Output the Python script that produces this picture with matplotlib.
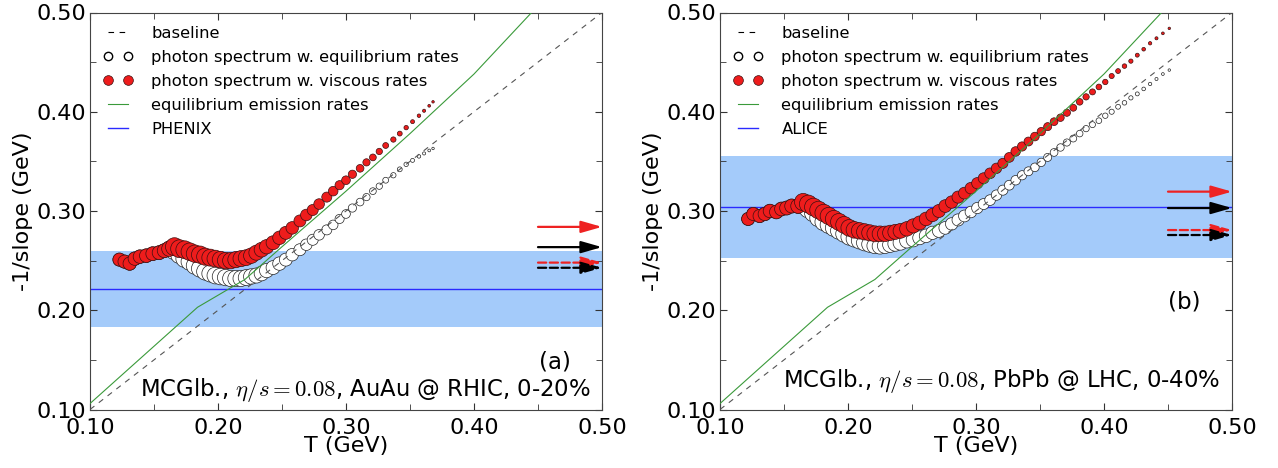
import numpy as np
import matplotlib.pyplot as plt
from matplotlib.lines import Line2D
from matplotlib.ticker import MultipleLocator, FormatStrFormatter

plt.rcParams['font.family'] = 'DejaVu Sans'
plt.rcParams['mathtext.fontset'] = 'cm'

# ---- panel (a): AuAu @ RHIC, 0-20% ----
T_a = [0.123, 0.127, 0.131, 0.135, 0.139, 0.144, 0.149, 0.154, 0.158, 0.162,
       0.166, 0.170, 0.174, 0.178, 0.182, 0.186, 0.190, 0.194, 0.198, 0.202,
       0.206, 0.210, 0.214, 0.218, 0.222, 0.226, 0.230, 0.234, 0.238, 0.243,
       0.248, 0.253, 0.258, 0.264, 0.269, 0.274, 0.279, 0.285, 0.290, 0.295,
       0.300, 0.305, 0.311, 0.316, 0.321, 0.326, 0.331, 0.337, 0.342, 0.347,
       0.352, 0.357, 0.361, 0.365, 0.368]
visc_a = [0.251, 0.249, 0.247, 0.252, 0.254, 0.255, 0.257, 0.258, 0.260, 0.262,
          0.264, 0.262, 0.261, 0.259, 0.257, 0.256, 0.254, 0.253, 0.252, 0.251,
          0.250, 0.250, 0.251, 0.252, 0.253, 0.255, 0.258, 0.261, 0.264, 0.268,
          0.273, 0.278, 0.283, 0.290, 0.296, 0.301, 0.307, 0.314, 0.320, 0.326,
          0.331, 0.337, 0.343, 0.349, 0.354, 0.360, 0.366, 0.372, 0.378, 0.384,
          0.390, 0.396, 0.401, 0.406, 0.410]
equil_a = [0.251, 0.249, 0.247, 0.252, 0.254, 0.255, 0.257, 0.258, 0.260, 0.262,
           0.260, 0.256, 0.252, 0.249, 0.245, 0.242, 0.239, 0.237, 0.235, 0.234,
           0.233, 0.232, 0.232, 0.232, 0.233, 0.234, 0.235, 0.237, 0.240, 0.243,
           0.247, 0.251, 0.256, 0.261, 0.266, 0.271, 0.276, 0.281, 0.286, 0.292,
           0.297, 0.303, 0.309, 0.314, 0.320, 0.325, 0.331, 0.336, 0.342, 0.347,
           0.351, 0.355, 0.358, 0.361, 0.363]
band_a = (0.183, 0.260)
exp_a = 0.221
arrows_a = [0.284, 0.2636, 0.248, 0.2428]   # visc, equil, visc (dashed), equil (dashed)

# ---- panel (b): PbPb @ LHC, 0-40% ----
T_b = [0.122, 0.126, 0.131, 0.135, 0.139, 0.144, 0.148, 0.152, 0.156, 0.161,
       0.165, 0.169, 0.173, 0.177, 0.181, 0.185, 0.189, 0.193, 0.197, 0.201,
       0.205, 0.209, 0.213, 0.217, 0.221, 0.225, 0.229, 0.233, 0.237, 0.241,
       0.246, 0.251, 0.256, 0.261, 0.266, 0.271, 0.276, 0.281, 0.286, 0.291,
       0.296, 0.301, 0.306, 0.311, 0.316, 0.321, 0.326, 0.331, 0.336, 0.341,
       0.346, 0.351, 0.356, 0.361, 0.366, 0.371, 0.376, 0.381, 0.386, 0.391,
       0.396, 0.401, 0.406, 0.411, 0.416, 0.421, 0.426, 0.431, 0.436, 0.441,
       0.446, 0.451]
visc_b = [0.292, 0.297, 0.295, 0.297, 0.300, 0.299, 0.302, 0.303, 0.305, 0.305,
          0.309, 0.307, 0.304, 0.301, 0.298, 0.295, 0.292, 0.289, 0.286, 0.283,
          0.281, 0.280, 0.279, 0.278, 0.277, 0.277, 0.277, 0.278, 0.279, 0.280,
          0.282, 0.285, 0.288, 0.292, 0.296, 0.300, 0.305, 0.309, 0.314, 0.318,
          0.323, 0.328, 0.333, 0.338, 0.343, 0.348, 0.354, 0.360, 0.365, 0.370,
          0.375, 0.380, 0.385, 0.390, 0.394, 0.399, 0.404, 0.410, 0.415, 0.420,
          0.425, 0.430, 0.436, 0.441, 0.446, 0.451, 0.457, 0.463, 0.469, 0.474,
          0.479, 0.484]
equil_b = [0.292, 0.297, 0.295, 0.297, 0.300, 0.299, 0.302, 0.303, 0.305, 0.305,
           0.306, 0.302, 0.298, 0.293, 0.289, 0.286, 0.283, 0.280, 0.277, 0.274,
           0.272, 0.270, 0.268, 0.2665, 0.265, 0.2645, 0.265, 0.266, 0.267, 0.268,
           0.270, 0.271, 0.273, 0.275, 0.278, 0.280, 0.283, 0.287, 0.291, 0.295,
           0.299, 0.303, 0.307, 0.311, 0.316, 0.321, 0.326, 0.331, 0.336, 0.340,
           0.344, 0.349, 0.354, 0.359, 0.364, 0.369, 0.373, 0.378, 0.383, 0.387,
           0.391, 0.396, 0.400, 0.405, 0.409, 0.414, 0.418, 0.423, 0.428, 0.433,
           0.438, 0.442]
band_b = (0.253, 0.355)
exp_b = 0.304
arrows_b = [0.3195, 0.303, 0.2808, 0.2758]

# equilibrium emission rates (same in both panels)
T_green = [0.10, 0.184, 0.221, 0.25, 0.30, 0.35, 0.40, 0.445]
y_green = [0.106, 0.203, 0.231, 0.264, 0.320, 0.378, 0.438, 0.50]


def marker_sizes(T, t_end):
    # circle diameter in px, shrinking towards the last points
    d = np.interp(T, [0.12, 0.16, 0.166, 0.22, t_end], [13, 14, 18, 16, 2.5])
    return (d * 0.72) ** 2


def draw_panel(ax, T, visc, equil, band, exp_val, arrows, exp_name, tag, tag_y, note, note_y):
    ax.axhspan(band[0], band[1], color='#a4cbfa', lw=0, zorder=0)
    ax.axhline(exp_val, color='#2a2aff', lw=1.0, zorder=1)

    s = marker_sizes(np.array(T), T[-1])
    ax.scatter(T, equil, s=s, facecolor='white', edgecolor='#222222', linewidth=0.5, zorder=2)
    ax.scatter(T, visc, s=s, facecolor='#ee1c1c', edgecolor='#3a1010', linewidth=0.5, zorder=2.5)

    ax.plot([0.10, 0.50], [0.10, 0.50], color='#555555', lw=0.8, dashes=(5, 5), zorder=3)
    ax.plot(T_green, y_green, color='#3a9a3a', lw=0.8, zorder=3)

    styles = [('#ee2222', '-'), ('black', '-'), ('#ee2222', '--'), ('black', '--')]
    for yv, (c, ls) in zip(arrows, styles):
        ax.annotate('', xy=(0.50, yv), xytext=(0.45, yv),
                    arrowprops=dict(arrowstyle='-|>,head_length=0.7,head_width=0.2',
                                    color=c, lw=1.6, linestyle=ls, mutation_scale=18,
                                    shrinkA=0, shrinkB=0),
                    annotation_clip=False, zorder=4)

    ax.text(0.463, tag_y, tag, fontsize=16.5, ha='center', va='center')
    ax.text(0.491, note_y, note, fontsize=16.4, ha='right', va='center')

    ax.set_xlim(0.10, 0.50)
    ax.set_ylim(0.10, 0.50)
    ax.xaxis.set_major_locator(MultipleLocator(0.1))
    ax.yaxis.set_major_locator(MultipleLocator(0.1))
    ax.xaxis.set_minor_locator(MultipleLocator(0.05))
    ax.yaxis.set_minor_locator(MultipleLocator(0.05))
    ax.xaxis.set_major_formatter(FormatStrFormatter('%.2f'))
    ax.yaxis.set_major_formatter(FormatStrFormatter('%.2f'))
    ax.tick_params(which='both', direction='in', top=True, right=True,
                   labelsize=16, color='#333333')
    ax.tick_params(axis='y', pad=3)
    ax.tick_params(axis='x', pad=6)
    ax.tick_params(which='major', length=5)
    ax.tick_params(which='minor', length=4)
    for sp in ax.spines.values():
        sp.set_color('#444444')
    ax.set_xlabel('T (GeV)', fontsize=16, labelpad=-1.5)
    ax.set_ylabel('-1/slope (GeV)', fontsize=16, labelpad=2)

    handles = [
        Line2D([], [], color='black', lw=0.8, dashes=(5, 5)),
        Line2D([], [], ls='none', marker='o', ms=6, mfc='white', mec='black', mew=1),
        Line2D([], [], ls='none', marker='o', ms=7, mfc='#ee1c1c', mec='#3a1010', mew=0.5),
        Line2D([], [], color='#3a9a3a', lw=0.8),
        Line2D([], [], color='#2a2aff', lw=1.0),
    ]
    labels = ['baseline', 'photon spectrum w. equilibrium rates',
              'photon spectrum w. viscous rates', 'equilibrium emission rates', exp_name]
    ax.legend(handles, labels, loc='upper left', frameon=False, numpoints=2,
              fontsize=11.8, handlelength=1.8, handletextpad=1.15, labelspacing=0.55,
              borderaxespad=0.4)


fig = plt.figure(figsize=(12.78, 4.68), dpi=100)
ax1 = fig.add_axes([90 / 1278, 58.5 / 468, 512 / 1278, 397 / 468])
ax2 = fig.add_axes([720 / 1278, 58.5 / 468, 512 / 1278, 397 / 468])

draw_panel(ax1, T_a, visc_a, equil_a, band_a, exp_a, arrows_a, 'PHENIX', '(a)', 0.148,
           r'MCGlb., $\eta/s=0.08$, AuAu @ RHIC, 0-20%', 0.1195)
draw_panel(ax2, T_b, visc_b, equil_b, band_b, exp_b, arrows_b, 'ALICE', '(b)', 0.208,
           r'MCGlb., $\eta/s=0.08$, PbPb @ LHC, 0-40%', 0.1286)

fig.savefig('out.png', dpi=100)
